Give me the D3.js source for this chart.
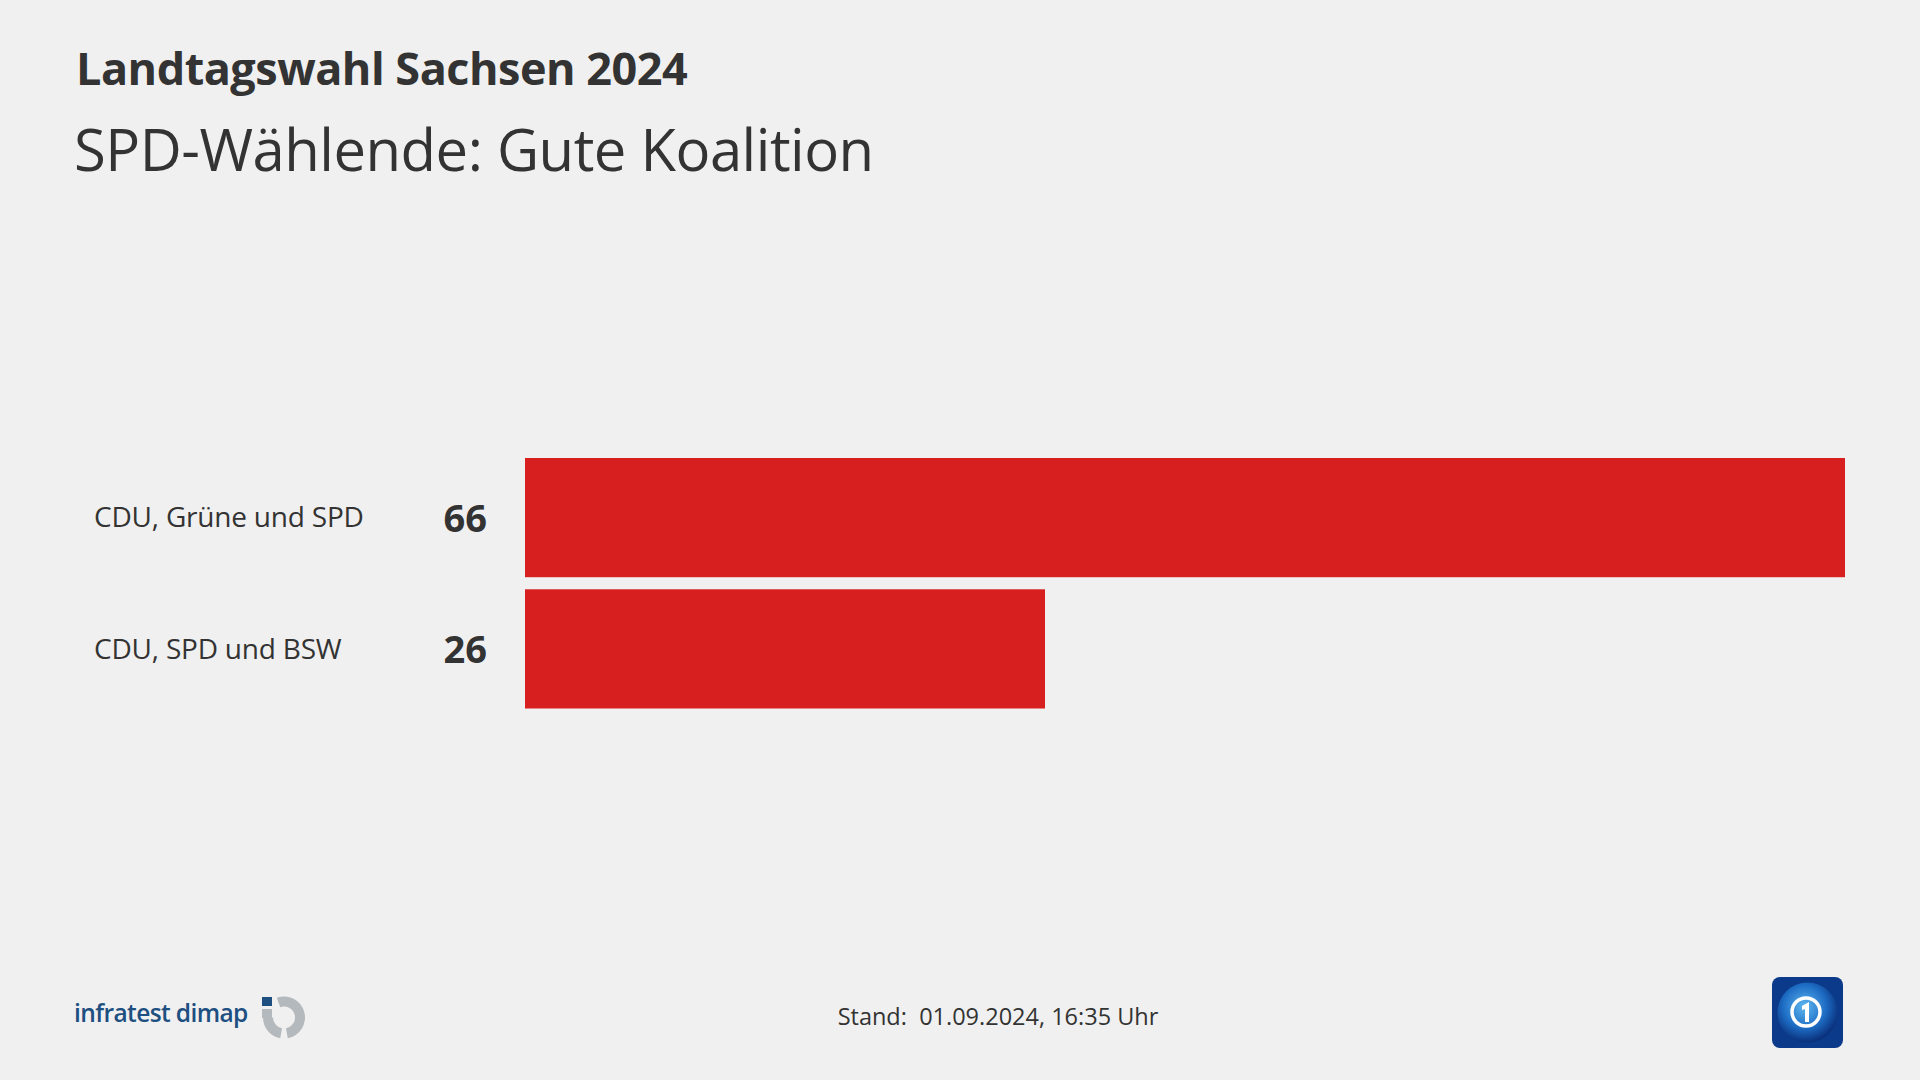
<!DOCTYPE html>
<html><head><meta charset="utf-8">
<script src="https://cdn.jsdelivr.net/npm/d3@7"></script>
<style>
html,body{margin:0;padding:0;background:#f0f0f0;}
svg{display:block;font-family:"Open Sans","Noto Sans",sans-serif;}
</style></head>
<body>
<script>
const title = "Landtagswahl Sachsen 2024";
const subtitle = "SPD-Wählende: Gute Koalition";
const categories = ["CDU, Grüne und SPD", "CDU, SPD und BSW"];
const values = [66, 26];
const footer = "Stand:  01.09.2024, 16:35 Uhr";

const W = 1920, H = 1080;
const svg = d3.select("body").append("svg").attr("width", W).attr("height", H);
svg.append("rect").attr("width", W).attr("height", H).attr("fill", "#f0f0f0");

svg.append("text").attr("x", 76).attr("y", 85).text(title)
  .attr("font-size", 45).attr("font-weight", 700).attr("fill", "#333").attr("letter-spacing", -0.5);
svg.append("text").attr("x", 74).attr("y", 171).text(subtitle)
  .attr("font-size", 58).attr("font-weight", 400).attr("fill", "#333").attr("letter-spacing", -0.5);

const data = categories.map((c, i) => ({c, v: values[i]}));
const x = d3.scaleLinear().domain([0, d3.max(values)]).range([525, 1845]);
const y = d3.scaleBand().domain(categories).range([458, 708.5]).paddingInner(0.092);

svg.selectAll("rect.bar").data(data).join("rect").attr("class", "bar")
  .attr("x", x(0)).attr("y", d => y(d.c))
  .attr("width", d => x(d.v) - x(0)).attr("height", y.bandwidth())
  .attr("fill", "#d71f1f");

svg.selectAll("text.cat").data(data).join("text").attr("class", "cat")
  .attr("x", 94).attr("y", d => y(d.c) + y.bandwidth() / 2)
  .attr("dy", "0.35em").attr("font-size", 28).attr("fill", "#333")
  .attr("letter-spacing", -0.2).text(d => d.c);

svg.selectAll("text.val").data(data).join("text").attr("class", "val")
  .attr("x", 487).attr("y", d => y(d.c) + y.bandwidth() / 2)
  .attr("dy", "0.37em").attr("text-anchor", "end").attr("font-size", 38)
  .attr("font-weight", 700).attr("fill", "#333").text(d => d.v);

// footer
svg.append("text").attr("x", 998).attr("y", 1025).attr("text-anchor", "middle")
  .attr("font-size", 23.5).attr("fill", "#333").attr("xml:space", "preserve")
  .style("white-space", "pre").text(footer);

// infratest dimap logo
svg.append("text").attr("x", 74).attr("y", 1022).text("infratest dimap")
  .attr("font-size", 24.5).attr("font-weight", 600).attr("fill", "#1d4f80").attr("letter-spacing", -0.6);
const lg = svg.append("g").attr("transform", "translate(284,1017.5)");
const arc = d3.arc().innerRadius(11).outerRadius(21);
lg.append("path").attr("d", arc({startAngle: -0.35, endAngle: Math.PI - 0.18})).attr("fill", "#b4b9bd");
lg.append("path").attr("d", arc({startAngle: Math.PI + 0.18, endAngle: 1.5 * Math.PI})).attr("fill", "#b4b9bd");
lg.append("rect").attr("x", -22).attr("y", -8.5).attr("width", 10).attr("height", 9).attr("fill", "#b4b9bd");
lg.append("rect").attr("x", -22).attr("y", -20.5).attr("width", 10).attr("height", 9).attr("fill", "#1d4f80");

// ARD tagesschau logo
const defs = svg.append("defs");
const gr = defs.append("radialGradient").attr("id", "globe").attr("cx", "45%").attr("cy", "40%").attr("r", "60%");
gr.append("stop").attr("offset", "0%").attr("stop-color", "#5fb8f0");
gr.append("stop").attr("offset", "60%").attr("stop-color", "#1d6cc4");
gr.append("stop").attr("offset", "100%").attr("stop-color", "#0a2f7a");
const ag = svg.append("g").attr("transform", "translate(1772,977)");
ag.append("rect").attr("width", 71).attr("height", 71).attr("rx", 8).attr("fill", "#0b3a8a");
ag.append("circle").attr("cx", 35.5).attr("cy", 35.5).attr("r", 30).attr("fill", "url(#globe)");
ag.append("circle").attr("cx", 34).attr("cy", 35).attr("r", 14).attr("fill", "none").attr("stroke", "#fff").attr("stroke-width", 3.5);
ag.append("path").attr("d", "M30,29 L37,25 L37,45 L33,45 L33,32 L30,33 Z").attr("fill", "#fff");
</script>
</body></html>
